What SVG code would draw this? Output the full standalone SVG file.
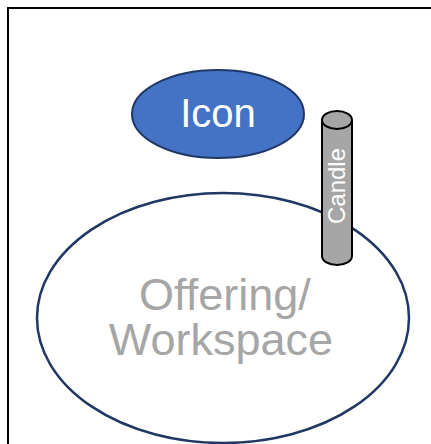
<svg xmlns="http://www.w3.org/2000/svg" width="431" height="444" viewBox="0 0 431 444">
  <style>
    .lbl { font-family: "Liberation Sans", Arial, sans-serif; text-anchor: middle; }
    .frame { fill: none; stroke: #000; stroke-width: 2; }
  </style>
  <rect width="431" height="444" fill="#fff"/>
  <!-- outer frame (top and left edges) -->
  <path class="frame" d="M8,444 V8 H431"/>

  <g id="workspace">
    <ellipse cx="223" cy="318" rx="186" ry="125" fill="#fff" stroke="#1F3864" stroke-width="2.5"/>
    <text class="lbl" x="225" y="310" font-size="45" fill="#A6A6A6">Offering/</text>
    <text class="lbl" x="221" y="355" font-size="45" fill="#A6A6A6">Workspace</text>
  </g>

  <g id="icon">
    <ellipse cx="218" cy="114" rx="86" ry="44" fill="#4472C4" stroke="#1F3864" stroke-width="2"/>
    <text class="lbl" x="218" y="127" font-size="40" fill="#fff">Icon</text>
  </g>

  <g id="candle">
    <path d="M322,120 A15,9 0 0 1 352,120 L352,256 A15,9 0 0 1 322,256 Z" fill="#A6A6A6" stroke="#000" stroke-width="2"/>
    <path d="M322,120 A15,9 0 0 0 352,120" fill="none" stroke="#000" stroke-width="2"/>
    <text class="lbl" transform="translate(345,186) rotate(-90)" font-size="24" fill="#fff">Candle</text>
  </g>

  <g id="connectors"/>
</svg>
